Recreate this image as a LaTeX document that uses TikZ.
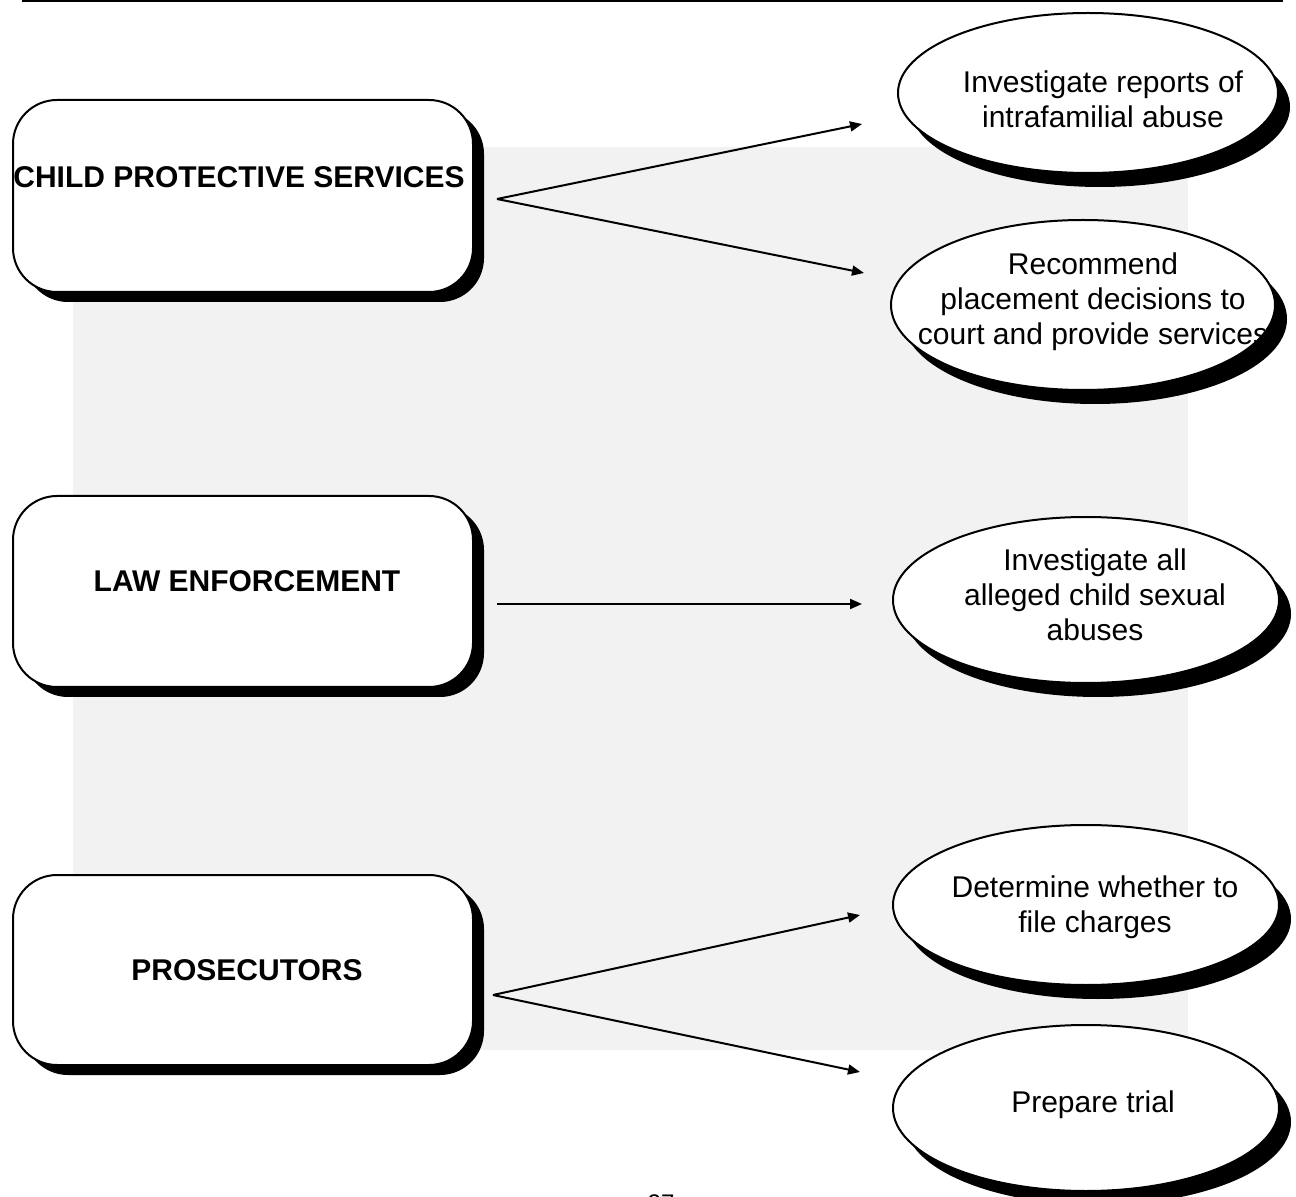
\documentclass[tikz,border=0pt]{standalone}
\usepackage{fontspec}
\setmainfont{Liberation Sans}
\usetikzlibrary{shapes.geometric,shadows,arrows.meta}
\begin{document}
\begin{tikzpicture}[x=0.5pt,y=-0.5pt,
  orgbox/.style={draw=black, line width=1pt, fill=white, rounded corners=22pt,
    minimum width=230pt, minimum height=96pt, inner sep=0pt,
    drop shadow={shadow xshift=5.5pt, shadow yshift=-5pt, fill=black, opacity=1}},
  task/.style={ellipse, draw=black, line width=1pt, fill=white, inner sep=0pt,
    drop shadow={shadow xshift=6pt, shadow yshift=-7pt, fill=black, opacity=1}},
  boxtext/.style={font=\fontsize{15}{17.5}\selectfont\bfseries, inner sep=0pt},
  tasktext/.style={font=\fontsize{15}{17.5}\selectfont, align=center, inner sep=0pt},
  link/.style={line width=1pt, -{Triangle[length=6pt,width=5pt]}}
]
\useasboundingbox (0,0) rectangle (1296,1197);
% background panel
\fill[gray!10] (73,147) rectangle (1188,1050);
% header rule
\draw[line width=0.75pt] (22,1) -- (1283,1);

% agency boxes
\node[orgbox] (cps) at (243,196) {};
\node[orgbox, minimum height=95.5pt] (law) at (243,591.5) {};
\node[orgbox, minimum height=95pt] (pros) at (243,970) {};

\begin{scope}
\clip (14,100) rectangle (464,292);
\node[boxtext, anchor=west] (cps-t) at (13,177) {CHILD PROTECTIVE SERVICES};
\end{scope}
\node[boxtext] (law-t) at (247,581) {LAW ENFORCEMENT};
\node[boxtext] (pros-t) at (247,970) {PROSECUTORS};

% task ellipses
\node[task, minimum width=190pt, minimum height=80pt] (e1) at (1088,93) {};
\node[task, minimum width=192pt, minimum height=85pt] (e2) at (1083,305) {};
\node[task, minimum width=193pt, minimum height=83pt] (e3) at (1086,600) {};
\node[task, minimum width=193pt, minimum height=80pt] (e4) at (1086,905) {};
\node[task, minimum width=193pt, minimum height=83pt] (e5) at (1086,1108) {};

\node[tasktext] (e1-t) at (1103,99) {Investigate reports of\\intrafamilial abuse};
\begin{scope}
\clip (1083,305) ellipse [x radius=95pt, y radius=41.5pt];
\node[tasktext] (e2-t) at (1093,302) {Recommend\\placement decisions to\\court and provide services};
\end{scope}
\node[tasktext] (e3-t) at (1095,595) {Investigate all\\alleged child sexual\\abuses};
\node[tasktext] (e4-t) at (1095,907) {Determine whether to\\file charges};
\node[tasktext] (e5-t) at (1093,1105) {Prepare trial};

% connector ends
\coordinate (cps-o) at (497,199);
\coordinate (e1-i) at (862,124);
\coordinate (e2-i) at (864,273);
\coordinate (law-o) at (497,604);
\coordinate (e3-i) at (862,604);
\coordinate (pros-o) at (493,995);
\coordinate (e4-i) at (860,915);
\coordinate (e5-i) at (860,1072);

\draw[link] (cps-o) -- (e1-i);
\draw[link] (cps-o) -- (e2-i);
\draw[link] (law-o) -- (e3-i);
\draw[link] (pros-o) -- (e4-i);
\draw[link] (pros-o) -- (e5-i);

% page number (cut off at the bottom edge, as in the reference)
\node[font=\fontsize{12}{14}\selectfont, anchor=north, inner sep=0pt] (pg) at (661,1194) {27};
\end{tikzpicture}
\end{document}
